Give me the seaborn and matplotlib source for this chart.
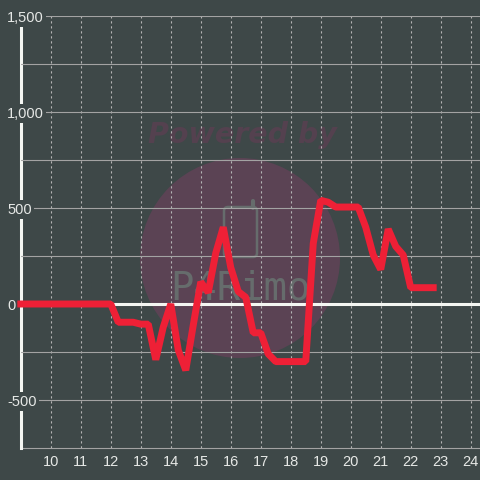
import matplotlib
matplotlib.use("Agg")
import matplotlib.pyplot as plt
from matplotlib.patches import Circle, FancyBboxPatch
import pandas as pd
import seaborn as sns

# ==========================================
# Data
# ==========================================
hours = [9, 9.5, 10, 10.5, 11, 11.5, 12, 12.25, 12.5, 12.75, 13, 13.25, 13.5, 13.75, 14,
         14.25, 14.5, 14.75, 15, 15.25, 15.5, 15.75, 16, 16.25, 16.5, 16.75, 17, 17.25,
         17.5, 17.75, 18, 18.25, 18.5, 18.75, 19, 19.25, 19.5, 19.75, 20, 20.25, 20.5,
         20.75, 21, 21.25, 21.5, 21.75, 22, 22.25, 22.5, 22.75]
values = [0, 0, 0, 0, 0, 0, 0, -95, -95, -95, -105, -105, -290, -120, 0,
          -240, -345, -110, 115, 60, 265, 400, 190, 65, 35, -150, -150, -260,
          -300, -300, -300, -300, -300, 315, 540, 530, 505, 505, 505, 505, 400,
          255, 180, 390, 300, 255, 85, 85, 85, 85]
y_ticks = [-500, -250, 0, 250, 500, 750, 1000, 1250, 1500]
y_labels = ["-500", "", "0", "", "500", "", "1,000", "", "1,500"]
x_ticks = [10, 11, 12, 13, 14, 15, 16, 17, 18, 19, 20, 21, 22, 23, 24]

df = pd.DataFrame({"hour": hours, "value": values})

BG = "#3e4848"
sns.set_theme(style="dark")
plt.rcParams["font.family"] = ["Liberation Sans", "DejaVu Sans"]

fig = plt.figure(figsize=(4.8, 4.8), dpi=100, facecolor=BG)

# ==========================================
# Watermark (pixel coordinates, behind the chart)
# ==========================================
wm_ax = fig.add_axes([0, 0, 1, 1], zorder=0)
wm_ax.set_xlim(0, 480)
wm_ax.set_ylim(480, 0)
wm_ax.axis("off")
wm_ax.add_patch(Circle((240, 258), 100, color="#5b4354", linewidth=0))
wm_ax.text(242, 135, "Powered by", color="#54414f", fontsize=20.5, fontweight="bold",
           fontstyle="italic", family="DejaVu Sans", ha="center", va="center")
wm_ax.text(240, 289, "P4Rimo", color="#666c6c", fontsize=28, family="DejaVu Sans Mono",
           ha="center", va="center")
wm_ax.add_patch(FancyBboxPatch((224, 207), 33, 50, boxstyle="round,pad=0,rounding_size=4",
                               facecolor="none", edgecolor="#666c6c", linewidth=1.8))
wm_ax.plot([253, 253], [201, 208], color="#666c6c", linewidth=3, solid_capstyle="round")

# ==========================================
# Line
# ==========================================
ax = fig.add_axes([20.8 / 480, 32 / 480, 459.2 / 480, 432 / 480], zorder=1)
ax.patch.set_alpha(0)

sns.lineplot(data=df, x="hour", y="value", estimator=None, sort=False, ax=ax,
             color="#ee2036", linewidth=5, zorder=6, clip_on=False,
             solid_capstyle="projecting", solid_joinstyle="bevel")
ax.axhline(0, color="#f4f6f2", linewidth=2.2, zorder=5.5)

ax.set_xlim(9, 24.31)
ax.set_ylim(-750, 1500)
ax.set_xlabel("")
ax.set_ylabel("")

# ==========================================
# Axes and grid
# ==========================================
ax.set_xticks(x_ticks)
ax.set_yticks(y_ticks)
ax.set_yticklabels(y_labels)
ax.grid(True, axis="y", color="#a3a3a3", linewidth=0.8, linestyle="-")
ax.grid(True, axis="x", color="#b5b5b5", linewidth=0.8, linestyle=(0, (2, 2.5)))
ax.tick_params(axis="both", length=0, labelsize=10.5, labelcolor="#e6e8e6")
ax.tick_params(axis="x", pad=5)
ax.tick_params(axis="y", pad=9.9)
for label in ax.get_yticklabels():
    label.set_ha("left")
    label.set_va("center_baseline")
    label.set_bbox(dict(facecolor=BG, edgecolor="none", pad=1.5))
ax.yaxis.set_zorder(5)
ax.xaxis.set_zorder(1)

for side in ["top", "right"]:
    ax.spines[side].set_visible(False)
ax.spines["left"].set_color("#f4f6f2")
ax.spines["left"].set_linewidth(2.2)
ax.spines["left"].set_zorder(4)
ax.spines["bottom"].set_color("#a3a3a3")
ax.spines["bottom"].set_linewidth(0.8)

fig.savefig("out.png", dpi=100, facecolor=BG)
